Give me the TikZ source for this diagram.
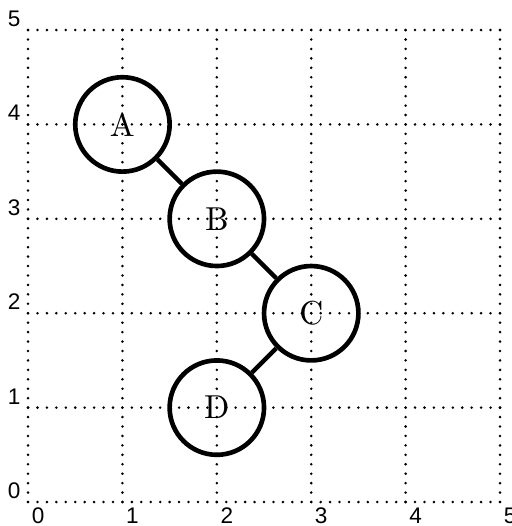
\documentclass[tikz,border=0pt]{standalone}
\usepackage{fontspec}
\newfontfamily\axisfont{Liberation Sans}
\begin{document}
\begin{tikzpicture}[x=1cm,y=1cm,
  gridline/.style={line width=0.85pt, line cap=round, dash pattern=on 0pt off 2.845pt, black},
  ticklabel/.style={font=\axisfont\fontsize{6.8}{8}\selectfont, inner sep=0pt},
  vertex/.style={circle, draw, line width=1.4pt, minimum size=1cm, inner sep=0pt, font=\fontsize{10}{12}\selectfont},
  edge/.style={line width=1.3pt}]
\useasboundingbox (-0.297,-0.254) rectangle (5.117,5.318);
\foreach \i in {0,...,5} {
  \draw[gridline] (\i,0) -- (\i,5);
  \draw[gridline] (0,\i) -- (5,\i);
  \node[ticklabel] (xl\i) at (\i+0.106,-0.148) {\i};
  \node[ticklabel] (yl\i) at (-0.148,\i+0.12) {\i};
}
\node[vertex] (A) at (1,4) {A};
\node[vertex] (B) at (2,3) {B};
\node[vertex] (C) at (3,2) {C};
\node[vertex] (D) at (2,1) {D};
\draw[edge] (A) -- (B);
\draw[edge] (B) -- (C);
\draw[edge] (C) -- (D);
\end{tikzpicture}
\end{document}
